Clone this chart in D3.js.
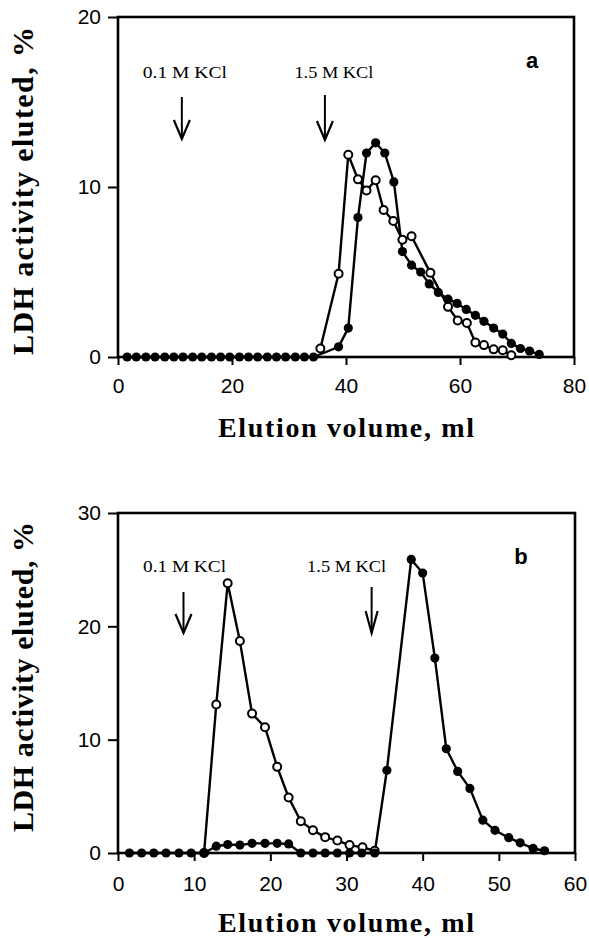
<!DOCTYPE html>
<html>
<head>
<meta charset="utf-8">
<script src="https://cdn.jsdelivr.net/npm/d3@7"></script>
<style>
  body { margin: 0; background: #fff; }
  svg { display: block; }
</style>
</head>
<body>
<svg id="chart"></svg>
<script>
// panel a: elution volume (ml) and LDH activity (%)
const volFilledA = [1.6, 3.2, 4.9, 6.5, 8.2, 9.8, 11.4, 13.1, 14.7, 16.4, 18.0, 19.6, 21.3, 22.9, 24.5, 26.2, 27.8, 29.4, 31.1, 32.7, 34.3,
  38.7, 40.4, 42.1, 43.6, 45.2, 46.8, 48.4, 49.9, 51.5, 53.1, 54.6, 56.2, 57.9, 59.5, 61.1, 62.7, 64.2, 65.9, 67.5, 69.0, 70.6, 72.2, 73.9];
const ldhFilledA = [0, 0, 0, 0, 0, 0, 0, 0, 0, 0, 0, 0, 0, 0, 0, 0, 0, 0, 0, 0, 0,
  0.6, 1.7, 8.2, 12.0, 12.6, 12.0, 10.3, 6.2, 5.4, 5.0, 4.3, 3.8, 3.4, 3.15, 2.8, 2.45, 2.1, 1.7, 1.35, 0.8, 0.5, 0.35, 0.15];
const volOpenA = [35.5, 38.7, 40.4, 42.1, 43.6, 45.2, 46.6, 48.3, 49.9, 51.5, 54.8, 57.9, 59.6, 61.2, 62.7, 64.2, 65.9, 67.5, 69.0];
const ldhOpenA = [0.5, 4.9, 11.9, 10.45, 9.8, 10.4, 8.65, 8.0, 6.9, 7.1, 4.95, 2.95, 2.15, 2.0, 0.85, 0.7, 0.45, 0.4, 0.1];

// panel b
const volFilledB = [1.5, 3.1, 4.7, 6.3, 8.0, 9.6, 11.3, 12.9, 14.4, 16.0, 17.6, 19.3, 20.9, 22.4, 24.0, 25.6, 27.2, 28.8, 30.4, 32.0, 33.7,
  35.3, 38.5, 40.0, 41.6, 43.1, 44.6, 46.2, 47.9, 49.5, 51.3, 52.8, 54.5, 56.0];
const ldhFilledB = [0, 0, 0, 0, 0, 0, 0, 0.6, 0.75, 0.7, 0.85, 0.85, 0.85, 0.8, 0, 0, 0, 0, 0, 0, 0,
  7.3, 25.9, 24.7, 17.2, 9.2, 7.2, 5.7, 2.9, 2.0, 1.35, 0.9, 0.4, 0.2];
const volOpenB = [11.3, 12.9, 14.4, 16.0, 17.6, 19.3, 20.9, 22.4, 24.0, 25.6, 27.2, 28.8, 30.4, 32.1, 33.7];
const ldhOpenB = [0, 13.1, 23.8, 18.7, 12.3, 11.1, 7.6, 4.9, 2.8, 2.0, 1.4, 1.1, 0.7, 0.5, 0.2];

const ticksXA = [0, 20, 40, 60, 80];
const ticksYA = [0, 10, 20];
const ticksXB = [0, 10, 20, 30, 40, 50, 60];
const ticksYB = [0, 10, 20, 30];

const saltLabels = ["0.1 M KCl", "1.5 M KCl"];
const arrowVolA = [11.2, 36.3];
const arrowVolB = [8.6, 33.3];

const W = 589, H = 938;
const svg = d3.select("#chart").attr("width", W).attr("height", H);

const serif = "'Liberation Serif', 'Times New Roman', serif";
const sans = "'Liberation Sans', Arial, sans-serif";

function drawPanel(p) {
  const g = svg.append("g");
  const x = d3.scaleLinear().domain(p.xDomain).range(p.xRange);
  const y = d3.scaleLinear().domain(p.yDomain).range(p.yRange);

  // axes
  const xAxis = d3.axisBottom(x).tickValues(p.ticksX).tickSize(8).tickSizeOuter(0).tickPadding(p.xPad);
  const yAxis = d3.axisLeft(y).tickValues(p.ticksY).tickSize(10).tickSizeOuter(0).tickPadding(7);

  g.append("g").attr("transform", "translate(0," + p.yRange[0] + ")").call(xAxis);
  g.append("g").attr("transform", "translate(" + p.xRange[0] + ",0)").call(yAxis);
  g.selectAll(".domain").remove();
  g.selectAll(".tick line").attr("stroke", "#000").attr("stroke-width", 2);
  g.selectAll(".tick text")
    .attr("fill", "#000")
    .attr("font-family", sans)
    .attr("font-size", 21);

  // frame
  g.append("rect")
    .attr("x", p.xRange[0]).attr("y", p.yRange[1])
    .attr("width", p.xRange[1] - p.xRange[0])
    .attr("height", p.yRange[0] - p.yRange[1])
    .attr("fill", "none").attr("stroke", "#000").attr("stroke-width", 2.6);

  const line = d3.line().x((d) => x(d[0])).y((d) => y(d[1]));
  const filled = p.volFilled.map((v, i) => [v, p.ldhFilled[i]]);
  const open = p.volOpen.map((v, i) => [v, p.ldhOpen[i]]);

  [open, filled].forEach((s) => {
    g.append("path").datum(s)
      .attr("d", line).attr("fill", "none")
      .attr("stroke", "#000").attr("stroke-width", 2.4).attr("stroke-linejoin", "round");
  });

  g.selectAll(".open").data(open).enter().append("circle")
    .attr("cx", (d) => x(d[0])).attr("cy", (d) => y(d[1])).attr("r", 4)
    .attr("fill", "#fff").attr("stroke", "#000").attr("stroke-width", 2);

  g.selectAll(".filled").data(filled).enter().append("circle")
    .attr("cx", (d) => x(d[0])).attr("cy", (d) => y(d[1])).attr("r", 4.6)
    .attr("fill", "#000");

  // salt arrows
  p.arrowVol.forEach((v, i) => {
    const ax = x(v);
    const a = p.arrows[i];
    g.append("line")
      .attr("x1", ax).attr("x2", ax).attr("y1", a.top).attr("y2", a.bottom)
      .attr("stroke", "#000").attr("stroke-width", 2);
    g.append("path")
      .attr("d", "M" + (ax - a.hw) + "," + (a.bottom - a.hh) + "L" + ax + "," + a.bottom + "L" + (ax + a.hw) + "," + (a.bottom - a.hh))
      .attr("fill", "none").attr("stroke", "#000").attr("stroke-width", 2.2);
    g.append("text")
      .attr("x", ax + a.dx).attr("y", p.labelY)
      .attr("text-anchor", "middle")
      .attr("font-family", serif).attr("font-size", 17)
      .attr("textLength", a.len).attr("lengthAdjust", "spacingAndGlyphs")
      .text(saltLabels[i]);
  });

  // panel letter
  g.append("text")
    .attr("x", p.letterPos[0]).attr("y", p.letterPos[1])
    .attr("text-anchor", "middle")
    .attr("font-family", sans).attr("font-weight", "bold").attr("font-size", 22)
    .text(p.letter);

  // axis titles
  g.append("text")
    .attr("transform", "translate(33," + p.yTitleY + ") rotate(-90)")
    .attr("text-anchor", "middle")
    .attr("font-family", serif).attr("font-weight", "bold").attr("font-size", 30)
    .attr("textLength", p.yTitleLen).attr("lengthAdjust", "spacing")
    .text("LDH activity eluted, %");

  g.append("text")
    .attr("x", 346).attr("y", p.xTitleY)
    .attr("text-anchor", "middle")
    .attr("font-family", serif).attr("font-weight", "bold").attr("font-size", 28)
    .attr("textLength", 256).attr("lengthAdjust", "spacing")
    .text("Elution volume, ml");
}

drawPanel({
  xDomain: [0, 80], xRange: [118, 574],
  yDomain: [0, 20], yRange: [357, 17],
  ticksX: ticksXA, ticksY: ticksYA, xPad: 13,
  volFilled: volFilledA, ldhFilled: ldhFilledA,
  volOpen: volOpenA, ldhOpen: ldhOpenA,
  arrowVol: arrowVolA,
  arrows: [
    { top: 97, bottom: 139, hw: 8, hh: 19, dx: 3, len: 84 },
    { top: 95, bottom: 140, hw: 8, hh: 19, dx: 9, len: 79 }
  ],
  labelY: 78,
  letter: "a", letterPos: [532, 68],
  yTitleY: 191, yTitleLen: 328,
  xTitleY: 437
});

drawPanel({
  xDomain: [0, 60], xRange: [118, 575],
  yDomain: [0, 30], yRange: [853, 513],
  ticksX: ticksXB, ticksY: ticksYB, xPad: 15,
  volFilled: volFilledB, ldhFilled: ldhFilledB,
  volOpen: volOpenB, ldhOpen: ldhOpenB,
  arrowVol: arrowVolB,
  arrows: [
    { top: 592, bottom: 633, hw: 8, hh: 19, dx: 1, len: 83 },
    { top: 587, bottom: 633, hw: 6, hh: 22, dx: -25, len: 79 }
  ],
  labelY: 572,
  letter: "b", letterPos: [521, 564],
  yTitleY: 677, yTitleLen: 310,
  xTitleY: 932
});
</script>
</body>
</html>
